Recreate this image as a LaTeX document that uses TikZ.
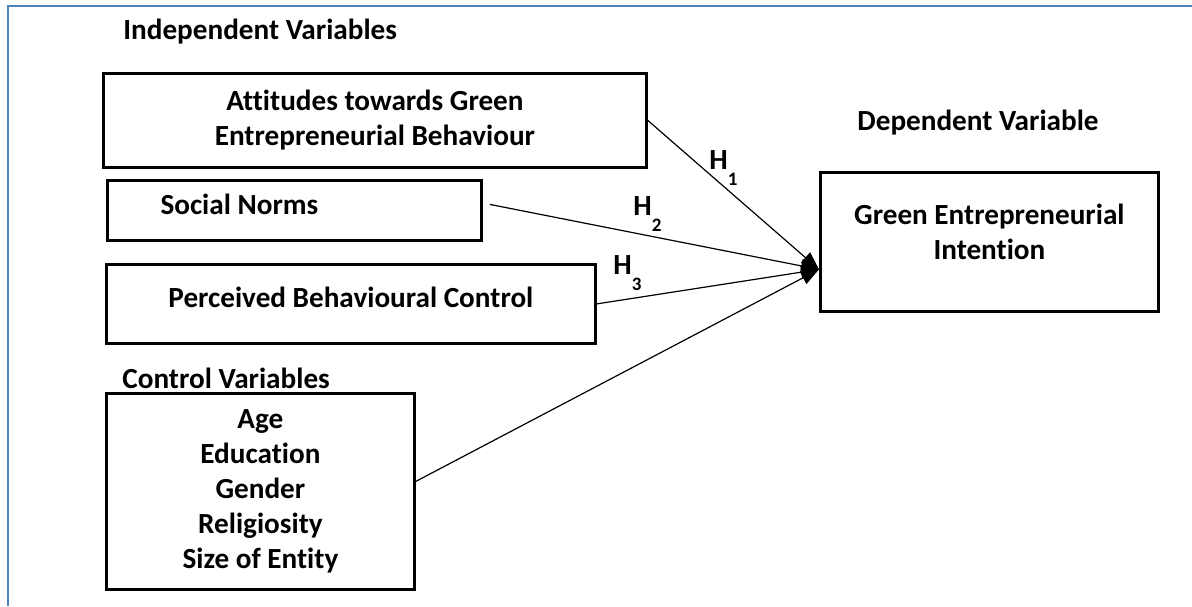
\documentclass[tikz,border=0pt]{standalone}
\usepackage{fontspec}
\setmainfont{Carlito}[Ligatures=NoCommon]
\usepackage{tikz}
\usetikzlibrary{positioning,arrows.meta}
\definecolor{frameblue}{HTML}{4F81BD}
\tikzset{
  varbox/.style={rectangle,draw=black,line width=1.4pt,inner sep=0pt,
    align=center,anchor=north west,font=\bfseries\fontsize{14.6}{17.5}\selectfont},
  head/.style={inner sep=0pt,anchor=west,font=\bfseries\fontsize{14.6}{17}\selectfont},
  hlbl/.style={inner sep=0pt,anchor=base west,font=\bfseries\fontsize{14.6}{17}\selectfont},
  link/.style={-{Triangle[length=9pt,width=7pt]},line width=0.6pt,draw=black},
}
\newcommand{\hypo}[1]{H\raisebox{-0.55em}{\fontsize{9.5}{10}\selectfont #1}}

\begin{document}
\begin{tikzpicture}[x=0.5pt,y=-0.5pt]
  \useasboundingbox (0,0) rectangle (1192,606);
  \draw[frameblue,line width=1.3pt] (8,606) -- (8,6) -- (1192,6);
  % independent variables
  \node[head] (indep) at (123,32) {Independent Variables};
  \node[varbox,minimum width=271.5pt,minimum height=47pt] (att) at (102,72)
    {Attitudes towards Green\\Entrepreneurial Behaviour};
  \node[varbox,minimum width=187pt,minimum height=30pt,text depth=6pt]
    (sn) at (106,179) {Social Norms\hspace*{55pt}};
  \node[varbox,minimum width=244.5pt,minimum height=39.5pt,text depth=7pt]
    (pbc) at (105,263) {Perceived Behavioural Control};
  % control variables
  \node[head] (ctrlhead) at (122,378) {Control Variables};
  \node[varbox,minimum width=154pt,minimum height=98pt] (ctrl) at (105,392)
    {Age\\Education\\Gender\\Religiosity\\Size of Entity};
  % dependent variable
  \node[head] (dephead) at (857,123) {Dependent Variable};
  \node[varbox,minimum width=169pt,minimum height=69.5pt,text depth=10pt]
    (gei) at (819,171) {Green Entrepreneurial\\Intention};
  \coordinate (hit) at ([yshift=-13.75pt]gei.west);
  % paths
  \draw[link] (att.east) -- (hit);
  \draw[link] ([xshift=3.5pt,yshift=3pt]sn.east) -- (hit);
  \draw[link] (pbc.east) -- (hit);
  \draw[link] ([yshift=5pt]ctrl.east) -- (hit);
  \node[hlbl] (h1) at (709,169) {\hypo{1}};
  \node[hlbl] (h2) at (633,215) {\hypo{2}};
  \node[hlbl] (h3) at (613,274) {\hypo{3}};
\end{tikzpicture}
\end{document}
